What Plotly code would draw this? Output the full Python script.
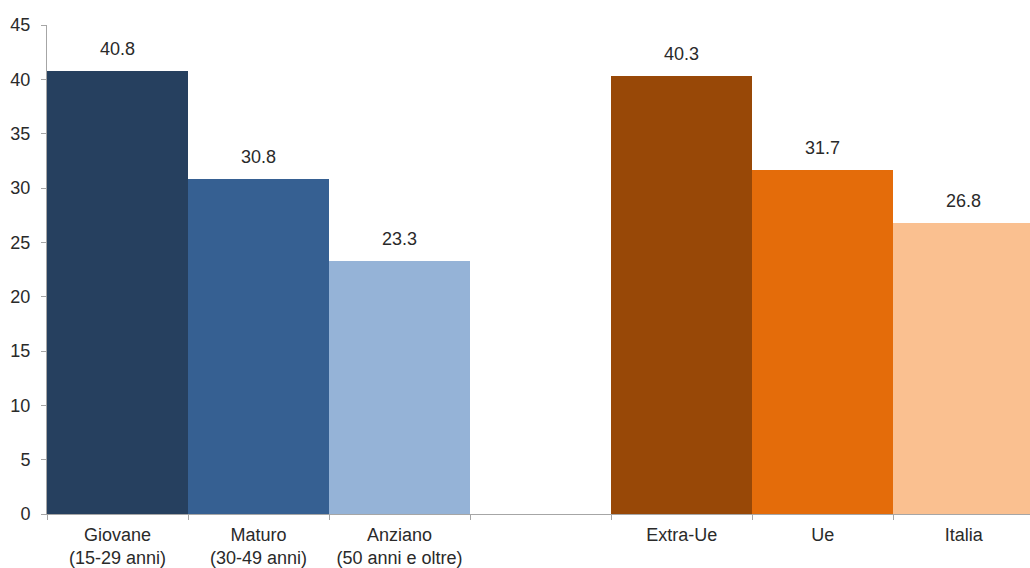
import plotly.graph_objects as go

categories = ["Giovane<br>(15-29 anni)", "Maturo<br>(30-49 anni)", "Anziano<br>(50 anni e oltre)", " ",
              "Extra-Ue", "Ue", "Italia"]
values = [40.8, 30.8, 23.3, None, 40.3, 31.7, 26.8]
colors = ["#26405F", "#366092", "#95B3D7", "#FFFFFF", "#984807", "#E46C0A", "#FAC090"]
y_ticks = [0, 5, 10, 15, 20, 25, 30, 35, 40, 45]

FONT = "Liberation Sans, Arial"

fig = go.Figure()
fig.add_trace(go.Bar(
    x=categories, y=values,
    marker=dict(color=colors, line=dict(width=0)),
    hoverinfo="skip",
))

for c, v in zip(categories, values):
    if v is None:
        continue
    fig.add_annotation(x=c, y=v, text=f"{v:.1f}", showarrow=False,
                       yanchor="bottom", yshift=10,
                       font=dict(family=FONT, size=18, color="#2a2a2a"))

fig.update_layout(
    width=1030, height=568,
    margin=dict(l=47, r=0, t=25, b=54),
    paper_bgcolor="white", plot_bgcolor="white",
    bargap=0, showlegend=False,
    font=dict(family=FONT, size=18, color="#2a2a2a"),
)
fig.update_xaxes(
    type="category", range=[-0.5, 6.47], showline=True, linecolor="#A6A6A6", linewidth=1,
    ticks="outside", tickson="boundaries", ticklen=5, tickcolor="#A6A6A6",
    showgrid=False, zeroline=False, ticklabelstandoff=4,
)
fig.update_yaxes(
    range=[0, 45], tickvals=y_ticks, showline=True, linecolor="#A6A6A6", linewidth=1,
    ticks="outside", ticklen=5, tickcolor="#A6A6A6", showgrid=False, zeroline=False,
    ticklabelstandoff=7,
)

fig.write_html("out.html")
